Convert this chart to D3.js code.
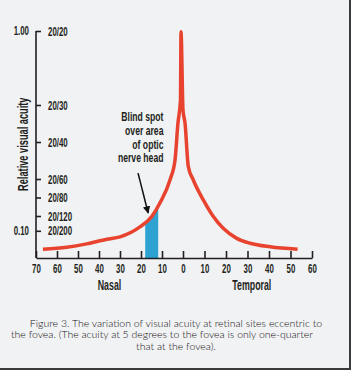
<!DOCTYPE html>
<html>
<head>
<meta charset="utf-8">
<script src="https://cdn.jsdelivr.net/npm/d3@7"></script>
<style>
  html, body { margin: 0; padding: 0; background: #f1f2f4; }
  #chart { width: 351px; height: 370px; }
  .cond { font-family: "Liberation Sans", Arial, sans-serif; font-weight: bold; fill: #231f20; }
</style>
</head>
<body>
<div id="chart"></div>
<script>
// eccentricity in degrees (negative = nasal), relative acuity
const nasalDeg = [-66.7, -55.4, -45.9, -36.3, -30, -20.5, -14.9, -11, -6.2, -3.8, -2.4, -1.2, -0.95];
const nasalAcuity = [0.017, 0.026, 0.041, 0.062, 0.073, 0.118, 0.164, 0.225, 0.329, 0.419, 0.586, 0.689, 0.997];
const temporalDeg = [0, 0.93, 2.47, 4.79, 9.44, 14.1, 18.7, 25, 31.2, 40.5, 53.3];
const temporalAcuity = [0.644, 0.586, 0.389, 0.329, 0.239, 0.164, 0.111, 0.066, 0.044, 0.028, 0.017];

const xTicks = [-70, -60, -50, -40, -30, -20, -10, 0, 10, 20, 30, 40, 50, 60];
const snellenDenoms = [20, 30, 40, 60, 80, 120, 200];
const decimalTicks = [1.0, 0.1];
const blindSpot = [-18, -11.8];
const noteLines = ["Blind spot", "over area", "of optic", "nerve head"];

const width = 351, height = 370;
const K = 0.63; // horizontal squeeze to mimic the condensed face

const svg = d3.select("#chart").append("svg")
  .attr("width", width)
  .attr("height", height);

const x = d3.scaleLinear().domain([-70, 0, 60]).range([36, 183, 312]);
const y = d3.scaleLinear().domain([-0.0225, 1]).range([258, 31]);

// move x/y into a transform so the text can be squeezed in place
function condense(sel, k) {
  sel.each(function() {
    const t = d3.select(this);
    const tx = +t.attr("x") || 0, ty = +t.attr("y") || 0;
    t.attr("x", 0).attr("y", 0).attr("transform", `translate(${tx},${ty}) scale(${k},1)`);
  });
}

const points = nasalDeg.map((d, i) => [d, nasalAcuity[i]])
  .concat(temporalDeg.map((d, i) => [d, temporalAcuity[i]]));

const line = d3.line().x(d => x(d[0])).y(d => y(d[1])).curve(d3.curveMonotoneX);
const area = d3.area().x(d => x(d[0])).y0(y(-0.0225)).y1(d => y(d[1])).curve(d3.curveMonotoneX);

// blind spot, clipped to area under curve
svg.append("clipPath").attr("id", "under")
  .append("path").attr("d", area(points));
svg.append("rect")
  .attr("clip-path", "url(#under)")
  .attr("x", x(blindSpot[0]))
  .attr("width", x(blindSpot[1]) - x(blindSpot[0]))
  .attr("y", y(1))
  .attr("height", y(-0.0225) - y(1))
  .attr("fill", "#2ea2d1");

// x axis
const xAxis = svg.append("g")
  .attr("transform", `translate(0,${y(-0.0225)})`)
  .call(d3.axisBottom(x).tickValues(xTicks).tickSize(-7).tickSizeOuter(0).tickPadding(6)
    .tickFormat(d => Math.abs(d)));
xAxis.selectAll("path, line").attr("stroke", "#231f20").attr("stroke-width", 1.6);
xAxis.selectAll("text").attr("class", "cond").attr("font-size", 12.5).call(condense, K);

// y axis (Snellen on right side of line)
const yAxis = svg.append("g")
  .attr("transform", `translate(${x(-70)},0)`)
  .call(d3.axisRight(y).tickValues(snellenDenoms.map(d => 20 / d)).tickSize(5).tickSizeOuter(0).tickPadding(7)
    .tickFormat((d, i) => "20/" + snellenDenoms[i]));
yAxis.select(".domain").attr("d", `M0,${y(1)}V${y(-0.0225)}`);
yAxis.selectAll("path, line").attr("stroke", "#231f20").attr("stroke-width", 1.6);
yAxis.selectAll("text").attr("class", "cond").attr("font-size", 12.5).call(condense, K);

svg.selectAll(".dec").data(decimalTicks).join("text")
  .attr("class", "cond dec")
  .attr("x", 29)
  .attr("y", d => y(d))
  .attr("dy", "0.35em")
  .attr("text-anchor", "end")
  .attr("font-size", 12.5)
  .text(d => d3.format(".2f")(d))
  .call(condense, K);

// axis titles
svg.append("text").attr("class", "cond")
  .attr("transform", `translate(28,${y(0.49)}) rotate(-90) scale(0.66,1)`)
  .attr("text-anchor", "middle")
  .attr("font-size", 14)
  .text("Relative visual acuity");
svg.append("text").attr("class", "cond")
  .attr("x", x(-35)).attr("y", 290)
  .attr("text-anchor", "middle").attr("font-size", 14)
  .text("Nasal")
  .call(condense, K);
svg.append("text").attr("class", "cond")
  .attr("x", x(32)).attr("y", 290)
  .attr("text-anchor", "middle").attr("font-size", 14)
  .text("Temporal")
  .call(condense, K);

// acuity curve
svg.append("path")
  .attr("d", line(points))
  .attr("fill", "none")
  .attr("stroke", "#e8432f")
  .attr("stroke-width", 3.5)
  .attr("stroke-linejoin", "round");

// annotation, one text per line
svg.selectAll(".note").data(noteLines).join("text")
  .attr("class", "cond note")
  .attr("text-anchor", "end")
  .attr("font-size", 12)
  .attr("x", x(-9.3))
  .attr("y", (d, i) => 121 + i * 13.8)
  .text(d => d)
  .call(condense, 0.72);

svg.append("defs").append("marker")
  .attr("id", "arrow")
  .attr("viewBox", "0 0 10 10")
  .attr("refX", 9).attr("refY", 5)
  .attr("markerWidth", 5).attr("markerHeight", 5)
  .attr("orient", "auto")
  .append("path").attr("d", "M0,0L10,5L0,10z").attr("fill", "#111");
svg.append("line")
  .attr("x1", x(-21.4)).attr("y1", y(0.36))
  .attr("x2", x(-16.6)).attr("y2", y(0.18))
  .attr("stroke", "#111").attr("stroke-width", 1.5)
  .attr("marker-end", "url(#arrow)");

// caption
const caption = [
  "Figure 3. The variation of visual acuity at retinal sites eccentric to",
  "the fovea. (The acuity at 5 degrees to the fovea is only one-quarter",
  "that at the fovea)."
];
svg.append("text")
  .attr("font-family", "Lato, 'Open Sans', sans-serif")
  .attr("font-weight", 300)
  .attr("font-size", 10.5)
  .attr("fill", "#111")
  .attr("text-anchor", "middle")
  .selectAll("tspan").data(caption).join("tspan")
  .attr("x", (d, i) => i === 1 ? 162 : 176)
  .attr("y", (d, i) => 327 + i * 11.3)
  .text(d => d);

// frame edges
svg.append("rect").attr("x", 349).attr("y", 0).attr("width", 2).attr("height", height).attr("fill", "#3a3a3a");
svg.append("rect").attr("x", 0).attr("y", 368).attr("width", width).attr("height", 2).attr("fill", "#3a3a3a");
</script>
</body>
</html>
